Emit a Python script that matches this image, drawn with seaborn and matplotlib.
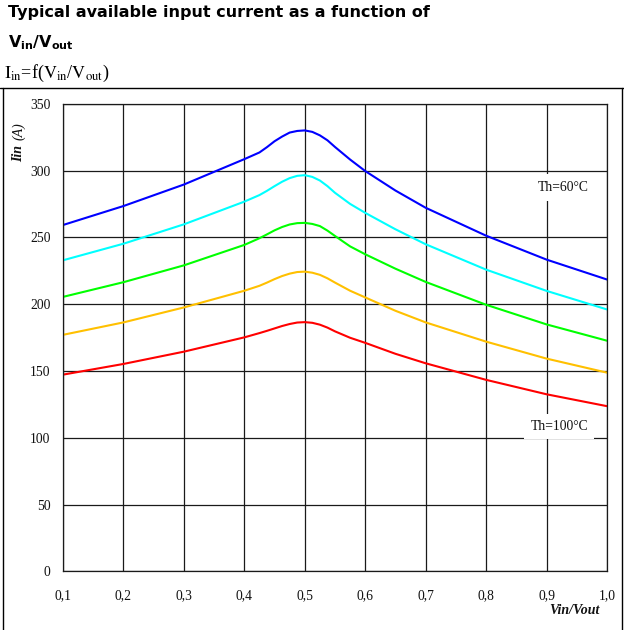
import numpy as np
import pandas as pd
import matplotlib
matplotlib.use("Agg")
import matplotlib.pyplot as plt
import seaborn as sns
from matplotlib.lines import Line2D

# ---- data ----
vin_vout = [0.1, 0.2, 0.3, 0.4, 0.425, 0.4375, 0.45, 0.4625, 0.475, 0.4875, 0.5, 0.5125, 0.525, 0.5375,
            0.55, 0.575, 0.6, 0.65, 0.7, 0.8, 0.9, 1.0]
curve_blue = [259.2, 273.4, 289.5, 308.5, 313.5, 317.5, 321.9, 325.4, 328.4, 329.6, 330.0, 328.9, 326.3, 322.6,
              317.6, 308.2, 299.6, 285.0, 272.1, 251.2, 233.3, 218.4]
curve_cyan = [232.8, 245.2, 259.7, 276.7, 281.6, 284.8, 288.3, 291.6, 294.3, 296.0, 296.5, 295.2, 292.5, 288.3,
              283.3, 275.0, 268.3, 256.0, 244.8, 225.8, 209.9, 196.0]
curve_green = [205.4, 216.4, 229.0, 244.3, 249.3, 252.2, 255.2, 257.7, 259.6, 260.6, 260.8, 260.0, 258.4, 255.0,
               251.0, 243.2, 237.3, 226.5, 216.6, 199.5, 184.8, 172.6]
curve_yellow = [177.0, 186.3, 197.5, 210.0, 213.7, 216.1, 218.7, 221.0, 222.8, 224.0, 224.3, 223.5, 221.9, 219.3,
                216.1, 210.0, 205.0, 195.0, 186.3, 171.9, 159.2, 148.7]
curve_red = [147.2, 155.2, 164.4, 175.1, 178.3, 180.0, 181.8, 183.6, 185.1, 186.2, 186.5, 186.0, 184.6, 182.4,
             179.6, 174.8, 171.0, 162.8, 155.7, 143.3, 132.5, 123.6]

series_names = ["blue", "cyan", "green", "yellow", "red"]
series_values = [curve_blue, curve_cyan, curve_green, curve_yellow, curve_red]
series_colors = ["#0000FF", "#00FFFF", "#00FF00", "#FFC000", "#FF0000"]

x_ticks = [0.1, 0.2, 0.3, 0.4, 0.5, 0.6, 0.7, 0.8, 0.9, 1.0]
x_tick_labels = ["0,1", "0,2", "0,3", "0,4", "0,5", "0,6", "0,7", "0,8", "0,9", "1,0"]
y_ticks = [0, 50, 100, 150, 200, 250, 300, 350]

rows = []
for name, vals in zip(series_names, series_values):
    for xv, yv in zip(vin_vout, vals):
        rows.append({"x": xv, "y": yv, "series": name})
df = pd.DataFrame(rows)

# ---- style ----
sns.set_style("white")
plt.rcParams["font.family"] = ["Liberation Serif", "DejaVu Serif"]

W, H = 624, 630
fig = plt.figure(figsize=(W / 100, H / 100), dpi=100)

ax_left, ax_right, ax_top, ax_bottom = 63, 607, 103.7, 571.3
ax = fig.add_axes([ax_left / W, 1 - ax_bottom / H, (ax_right - ax_left) / W, (ax_bottom - ax_top) / H])

sns.lineplot(data=df, x="x", y="y", hue="series", palette=dict(zip(series_names, series_colors)),
             hue_order=series_names, linewidth=1.5, legend=False, ax=ax, sort=True)
for ln in ax.get_lines():
    ln.set_solid_joinstyle("round")
    ln.set_solid_capstyle("round")

ax.set_xlim(0.1, 1.0)
ax.set_ylim(0, 350)
ax.set_xticks(x_ticks)
ax.set_xticklabels(x_tick_labels)
ax.set_yticks(y_ticks)
ax.set_yticklabels([str(v) for v in y_ticks])
ax.tick_params(axis="both", length=0, labelsize=9.8, colors="#111111")
ax.tick_params(axis="x", pad=13)
ax.tick_params(axis="y", pad=9)
ax.grid(True, color="#1a1a1a", linewidth=0.9)
ax.set_axisbelow(True)
for s in ax.spines.values():
    s.set_visible(True)
    s.set_color("#1a1a1a")
    s.set_linewidth(0.9)
ax.set_xlabel("")
ax.set_ylabel("")

# annotations
ax.text(0.927, 287.5, "Th=60°C", ha="center", va="center", fontsize=9.8, color="#111111",
        bbox=dict(boxstyle="square,pad=0.5", facecolor="white", edgecolor="none"), zorder=3)
ax.text(0.921, 108.4, "Th=100°C", ha="center", va="center", fontsize=9.8, color="#111111",
        bbox=dict(boxstyle="square,pad=0.45", facecolor="white", edgecolor="none"), zorder=3)

# axis labels
fig.text(600 / W, 1 - 610 / H, "Vin/Vout", ha="right", va="center", fontsize=10,
         fontweight="bold", fontstyle="italic", color="#111111")
fig.text(19 / W, 1 - 162 / H, "Iin", ha="center", va="bottom", rotation=90, fontsize=10,
         fontweight="bold", fontstyle="italic", color="#111111")
fig.text(19 / W, 1 - 140 / H, "(A)", ha="center", va="bottom", rotation=90, fontsize=10,
         fontstyle="italic", color="#111111")

# titles
fig.text(8 / W, 1 - 17 / H, "Typical available input current as a function of", ha="left", va="baseline",
         fontsize=11.5, fontweight="bold", family="DejaVu Sans", color="black")
fig.text(8 / W, 1 - 47 / H, r"$\mathbf{V_{in}/V_{out}}$", ha="left", va="baseline",
         fontsize=11.5, math_fontfamily="dejavusans", color="black")
fig.text(4 / W, 1 - 78 / H, r"$\mathrm{I_{in}}$=f($\mathrm{V_{in}}$/$\mathrm{V_{out}}$)", ha="left",
         va="baseline", fontsize=13, family="Liberation Serif", math_fontfamily="stix", color="black")

# outer frame
fy = 1 - 88 / H
fig.add_artist(Line2D([0, 1], [fy, fy], transform=fig.transFigure, color="black", linewidth=1.0))
fig.add_artist(Line2D([2.5 / W, 2.5 / W], [0, fy], transform=fig.transFigure, color="black", linewidth=1.0))
fig.add_artist(Line2D([622 / W, 622 / W], [0, fy], transform=fig.transFigure, color="black", linewidth=1.0))

fig.savefig("out.png", dpi=100, facecolor="white")
